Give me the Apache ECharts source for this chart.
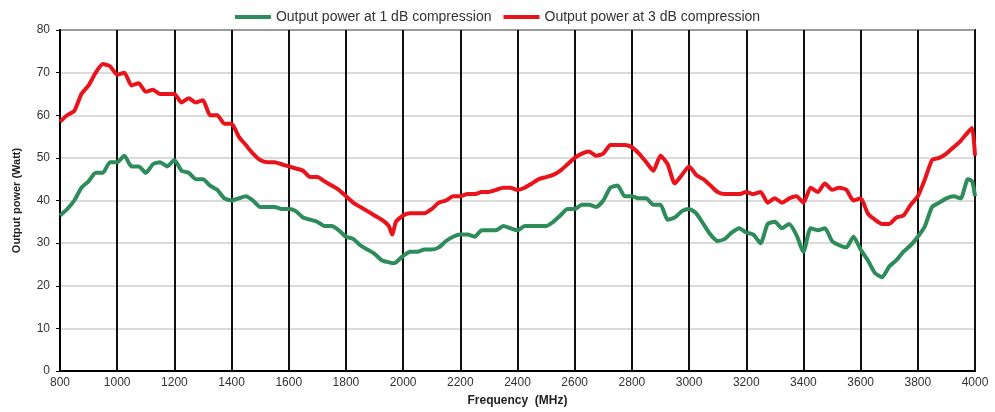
<!DOCTYPE html>
<html><head><meta charset="utf-8">
<script src="https://cdn.jsdelivr.net/npm/echarts@6/dist/echarts.min.js"></script>
<style>html,body{margin:0;padding:0;background:#fff}#c{width:995px;height:412px}</style>
</head><body><div id="c"></div>
<script>
const freq = [800,825,850,875,900,925,950,975,1000,1025,1050,1075,1100,1125,1150,1175,1200,1225,1250,1275,1300,1325,1350,1375,1400,1425,1450,1475,1500,1525,1550,1575,1600,1625,1650,1675,1700,1725,1750,1775,1800,1825,1850,1875,1900,1925,1950,1962,1975,2000,2025,2050,2075,2100,2125,2150,2175,2200,2225,2250,2275,2300,2325,2350,2375,2400,2425,2450,2475,2500,2525,2550,2575,2600,2625,2650,2675,2700,2725,2750,2775,2800,2825,2850,2875,2900,2925,2950,2975,3000,3025,3050,3075,3100,3125,3150,3175,3200,3225,3250,3275,3300,3325,3350,3375,3400,3425,3450,3475,3500,3525,3550,3575,3600,3625,3650,3675,3700,3725,3750,3775,3800,3825,3850,3875,3900,3925,3950,3975,3990,4000];
const p1dB = [36.5,38,40,43,44.5,46.5,46.5,49,49,50.5,48,48,46.5,48.5,49,48,49.5,47,46.5,45,45,43.5,42.5,40.5,40,40.5,41,40,38.5,38.5,38.5,38,38,37.5,36,35.5,35,34,34,33,31.5,31,29.5,28.5,27.5,26,25.5,25.3,25.5,27,28,28,28.5,28.5,29,30.5,31.5,32,32,31.5,33,33,33,34,33.5,33,34,34,34,34,35,36.5,38,38,39,39,38.5,40,43,43.5,41,41,40.5,40.5,39,39,35.5,36,37.5,38,37,34.5,32,30.5,31,32.5,33.5,32.5,32,30,34.5,35,33.5,34.5,32,28,33.5,33,33.5,30.5,29.5,29,31.5,28.5,26,23,22,24.5,26,28,29.5,31.5,34,38.5,39.5,40.5,41,40.5,45,44.5,41];
const p3dB = [58.5,60,61,65,67,70,72,71.5,69.5,70,67,67.5,65.5,66,65,65,65,63,64,63,63.5,60,60,58,58,55,53,51,49.5,49,49,48.5,48,47.5,47,45.5,45.5,44.5,43.5,42.5,41,39.5,38.5,37.5,36.5,35.5,34,32,35,36.5,37,37,37,38,39.5,40,41,41,41.5,41.5,42,42,42.5,43,43,42.5,43,44,45,45.5,46,47,48.5,50,51,51.5,50.5,51,53,53,53,52.5,51,49,47,50.5,48.5,44,46,48,46,45,43.5,42,41.5,41.5,41.5,42,41.5,42,39.5,40.5,39.5,40.5,41,39.5,43,42,44,42.5,43,42.5,40,40.5,37,35.5,34.5,34.5,36,36.5,39,41,45,49.5,50,51,52.5,54,56,57,50.5];
const xTicks = [800,1000,1200,1400,1600,1800,2000,2200,2400,2600,2800,3000,3200,3400,3600,3800,4000];
const seriesNames = ['Output power at 1 dB compression','Output power at 3 dB compression'];

const chart = echarts.init(document.getElementById('c'));
const txt = {color:'#333', fontFamily:'Liberation Sans, Arial, sans-serif', fontSize:12};
chart.setOption({
  backgroundColor:'#fff',
  animation:false,
  legend:{top:5, left:'center', itemWidth:36, itemHeight:4, itemGap:12,
    textStyle:{color:'#333', fontFamily:'Liberation Sans, Arial, sans-serif', fontSize:14},
    data:seriesNames.map(n=>({name:n, icon:'rect'}))},
  grid:{left:60, right:20, top:30, bottom:39, show:true, borderColor:'#000', borderWidth:2},
  xAxis:{type:'value', min:800, max:4000, interval:200,
    name:'Frequency  (MHz)', nameLocation:'middle', nameGap:24,
    nameTextStyle:{color:'#222', fontWeight:'bold', fontSize:12, fontFamily:'Liberation Sans, Arial, sans-serif'},
    axisLine:{lineStyle:{color:'#000', width:2}}, axisTick:{show:false},
    axisLabel:Object.assign({margin:6, formatter:v=>String(v)}, txt),
    splitLine:{show:true, lineStyle:{color:'#111', width:2}}},
  yAxis:{type:'value', min:0, max:80, interval:10,
    name:'Output power (Watt)', nameLocation:'middle', nameGap:38, nameRotate:90,
    nameTextStyle:{color:'#222', fontWeight:'bold', fontSize:11, fontFamily:'Liberation Sans, Arial, sans-serif'},
    axisLine:{show:true, lineStyle:{color:'#000', width:2}},
    axisTick:{show:true, length:4, inside:false, lineStyle:{color:'#000'}},
    axisLabel:Object.assign({margin:10}, txt),
    splitLine:{show:true, lineStyle:{color:'#cfcfcf', width:1.5}}},
  series:[
    {name:seriesNames[0], type:'line', showSymbol:false, smooth:0.2, color:'#2e8b5a',
     lineStyle:{width:4, color:'#2e8b5a'}, data:freq.map((f,i)=>[f,p1dB[i]])},
    {name:seriesNames[1], type:'line', showSymbol:false, smooth:0.2, color:'#e8131b',
     lineStyle:{width:4, color:'#e8131b'}, data:freq.map((f,i)=>[f,p3dB[i]])}
  ]
});
</script></body></html>
